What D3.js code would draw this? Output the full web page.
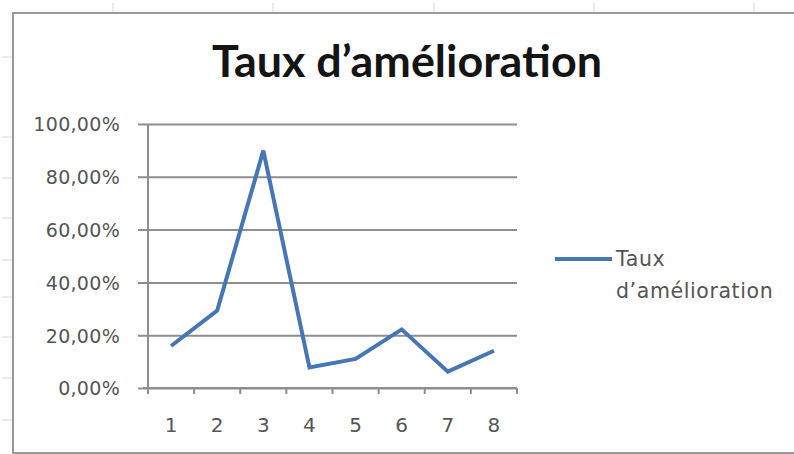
<!DOCTYPE html>
<html>
<head>
<meta charset="utf-8">
<script src="https://cdn.jsdelivr.net/npm/d3@7"></script>
<style>
  html, body { margin: 0; padding: 0; background: #fff; }
  svg { display: block; }
</style>
</head>
<body>
<svg id="chart" width="794" height="454"></svg>
<script>
// Improvement rate per period
const periods = ["1", "2", "3", "4", "5", "6", "7", "8"];
const rates = [0.159, 0.293, 0.899, 0.078, 0.110, 0.222, 0.062, 0.141];
const yTicks = [0, 0.2, 0.4, 0.6, 0.8, 1.0];
const chartTitle = "Taux d\u2019amélioration";
const seriesName = ["Taux", "d\u2019amélioration"];

const W = 794, H = 454;
const svg = d3.select("#chart");

// sheet cell separators behind the chart object
const sheet = svg.append("g").attr("stroke", "#d6d6d6").attr("stroke-width", 1);
[113, 273, 434, 594, 754].forEach(x =>
  sheet.append("line").attr("x1", x).attr("x2", x).attr("y1", 3).attr("y2", 12));
[57, 137, 178, 218, 260, 297, 337, 378, 420].forEach(y =>
  sheet.append("line").attr("x1", 2).attr("x2", 12).attr("y1", y).attr("y2", y));

// chart object frame
svg.append("rect")
  .attr("x", 13).attr("y", 13)
  .attr("width", W + 10).attr("height", H - 14)
  .attr("fill", "#fff")
  .attr("stroke", "#9a9a9a").attr("stroke-width", 2);

// plot area
const plot = { left: 148, right: 517, top: 124, bottom: 388 };

const x = d3.scaleBand().domain(periods).range([plot.left, plot.right]);
const y = d3.scaleLinear().domain([0, 1]).range([plot.bottom, plot.top]);

const gridColor = "#8e8e8e";
const labelColor = "#555555";
const labelFont = "DejaVu Sans, Verdana, sans-serif";

// horizontal gridlines + y labels
const yAxis = svg.append("g")
  .attr("transform", `translate(${plot.right},0)`)
  .call(d3.axisLeft(y)
    .tickValues(yTicks)
    .tickSize(plot.right - plot.left + 10)
    .tickFormat(d => d3.format(".2f")(d * 100).replace(".", ",") + "%"));
yAxis.select(".domain").remove();
yAxis.selectAll(".tick line").attr("stroke", gridColor).attr("stroke-width", 2);
yAxis.selectAll(".tick text")
  .attr("x", -(plot.right - 120))
  .attr("fill", labelColor)
  .attr("font-family", labelFont)
  .attr("font-size", 19)
  .attr("letter-spacing", 0.3)
  .attr("dy", "0.36em");

// vertical axis line
svg.append("line")
  .attr("x1", plot.left).attr("x2", plot.left)
  .attr("y1", plot.top).attr("y2", plot.bottom)
  .attr("stroke", gridColor).attr("stroke-width", 2);

// category axis with boundary ticks
const xg = svg.append("g").attr("transform", `translate(0,${plot.bottom})`);
xg.append("line")
  .attr("x1", plot.left - 5).attr("x2", plot.right)
  .attr("stroke", gridColor).attr("stroke-width", 2);
const bounds = periods.map(p => x(p)).concat([x.range()[1]]);
xg.selectAll("line.b").data(bounds).enter().append("line")
  .attr("class", "b")
  .attr("x1", d => d).attr("x2", d => d)
  .attr("y1", 0).attr("y2", 6)
  .attr("stroke", gridColor).attr("stroke-width", 2);
xg.selectAll("text").data(periods).enter().append("text")
  .attr("x", d => x(d) + x.bandwidth() / 2)
  .attr("y", 44)
  .attr("text-anchor", "middle")
  .attr("fill", labelColor)
  .attr("font-family", labelFont)
  .attr("font-size", 20)
  .text(d => d);

// series line
const line = d3.line()
  .x((d, i) => x(periods[i]) + x.bandwidth() / 2)
  .y(d => y(d));
svg.append("path")
  .datum(rates)
  .attr("d", line)
  .attr("fill", "none")
  .attr("stroke", "#4676b6")
  .attr("stroke-width", 4)
  .attr("stroke-linejoin", "miter");

// title
const title = svg.append("text")
  .attr("x", 407).attr("y", 77)
  .attr("text-anchor", "middle")
  .attr("fill", "#141414")
  .attr("font-family", "Lato, 'Open Sans', sans-serif")
  .attr("font-weight", "bold")
  .attr("font-size", 43)
  .text(chartTitle);
title.attr("textLength", 390).attr("lengthAdjust", "spacingAndGlyphs");

// legend
const lg = svg.append("g");
lg.append("line")
  .attr("x1", 555).attr("x2", 612)
  .attr("y1", 259).attr("y2", 259)
  .attr("stroke", "#4676b6").attr("stroke-width", 4);
lg.selectAll("text").data(seriesName).enter().append("text")
  .attr("x", 616)
  .attr("y", (d, i) => 266 + i * 32)
  .attr("fill", labelColor)
  .attr("font-family", labelFont)
  .attr("font-size", 20.5)
  .attr("letter-spacing", 0.6)
  .text(d => d);
</script>
</body>
</html>
